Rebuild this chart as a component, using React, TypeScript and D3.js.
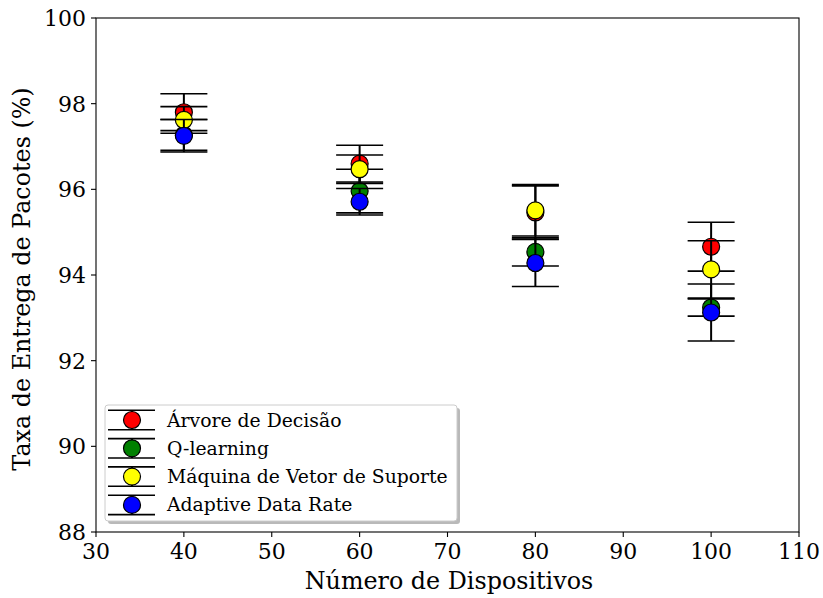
import React from "react";
import * as d3 from "d3";

const devices = [40, 60, 80, 100];
const seriesNames = ["Árvore de Decisão", "Q-learning", "Máquina de Vetor de Suporte", "Adaptive Data Rate"];
const seriesColors = ["#ff0000", "#008000", "#ffff00", "#0000ff"];
const arvoreMean = [97.8, 96.6, 95.46, 94.66];
const arvoreErr = [0.43, 0.43, 0.62, 0.57];
const qlearnMean = [97.27, 95.96, 94.54, 93.24];
const qlearnErr = [0.36, 0.51, 0.33, 0.2];
const svmMean = [97.62, 96.47, 95.51, 94.13];
const svmErr = [0.31, 0.33, 0.6, 0.67];
const adrMean = [97.25, 95.71, 94.28, 93.125];
const adrErr = [0.38, 0.31, 0.55, 0.665];
const xTicks = [30, 40, 50, 60, 70, 80, 90, 100, 110];
const yTicks = [88, 90, 92, 94, 96, 98, 100];

const W = 823, H = 598;
const M = { left: 96, right: 799, top: 18, bottom: 532 };
const FONT = "DejaVu Serif";

export default function App() {
  const x = d3.scaleLinear().domain([30, 110]).range([M.left, M.right]);
  const y = d3.scaleLinear().domain([88, 100]).range([M.bottom, M.top]);
  const means = [arvoreMean, qlearnMean, svmMean, adrMean];
  const errs = [arvoreErr, qlearnErr, svmErr, adrErr];
  const capHalf = 23.5;
  const r = 8.5;

  const legX = 105, legY = 405, legW = 352, legH = 116;
  const rowY = (i: number) => 420 + i * 28.3;

  return (
    <svg width={W} height={H} style={{ position: "absolute", left: 0, top: 0, background: "#fff" }} fontFamily={FONT}>
      <rect x={0} y={0} width={W} height={H} fill="#fff" />
      {means.map((ms, si) => (
        <g key={si}>
          {devices.map((d, i) => {
            const cx = x(d);
            const hi = y(ms[i] + errs[si][i]);
            const lo = y(ms[i] - errs[si][i]);
            return (
              <g key={i}>
                <line x1={cx} x2={cx} y1={hi} y2={lo} stroke="#000" strokeWidth={2} />
                <line x1={cx - capHalf} x2={cx + capHalf} y1={hi} y2={hi} stroke="#000" strokeWidth={1.6} />
                <line x1={cx - capHalf} x2={cx + capHalf} y1={lo} y2={lo} stroke="#000" strokeWidth={1.6} />
                <circle cx={cx} cy={y(ms[i])} r={r} fill={seriesColors[si]} stroke="#000" strokeWidth={1.2} />
              </g>
            );
          })}
        </g>
      ))}
      <rect x={M.left} y={M.top} width={M.right - M.left} height={M.bottom - M.top} fill="none" stroke="#000" strokeWidth={1.1} />
      {xTicks.map((t) => (
        <g key={t}>
          <line x1={x(t)} x2={x(t)} y1={M.bottom} y2={M.bottom + 5} stroke="#000" strokeWidth={1.1} />
          <text x={x(t)} y={M.bottom + 27} fontSize={22} textAnchor="middle">{t}</text>
        </g>
      ))}
      {yTicks.map((t) => (
        <g key={t}>
          <line x1={M.left - 5} x2={M.left} y1={y(t)} y2={y(t)} stroke="#000" strokeWidth={1.1} />
          <text x={M.left - 10} y={y(t) + 8} fontSize={22} textAnchor="end">{t}</text>
        </g>
      ))}
      <text x={449} y={589} fontSize={23.8} textAnchor="middle">Número de Dispositivos</text>
      <text transform={`translate(30, 279) rotate(-90)`} fontSize={23.8} textAnchor="middle">Taxa de Entrega de Pacotes (%)</text>

      <rect x={legX + 3} y={legY + 3} width={legW} height={legH} rx={3} fill="#808080" opacity={0.55} />
      <rect x={legX} y={legY} width={legW} height={legH} rx={3} fill="#fff" stroke="#cccccc" strokeWidth={1} />
      {seriesNames.map((n, i) => {
        const cy = rowY(i);
        return (
          <g key={n}>
            <line x1={108} x2={155} y1={cy - 9.7} y2={cy - 9.7} stroke="#000" strokeWidth={1.6} />
            <line x1={108} x2={155} y1={cy + 9.7} y2={cy + 9.7} stroke="#000" strokeWidth={1.6} />
            <line x1={132} x2={132} y1={cy - 9.7} y2={cy + 9.7} stroke="#000" strokeWidth={2} />
            <circle cx={132} cy={cy} r={r} fill={seriesColors[i]} stroke="#000" strokeWidth={1.2} />
            <text x={167} y={cy + 6.5} fontSize={18.8}>{n}</text>
          </g>
        );
      })}
    </svg>
  );
}
